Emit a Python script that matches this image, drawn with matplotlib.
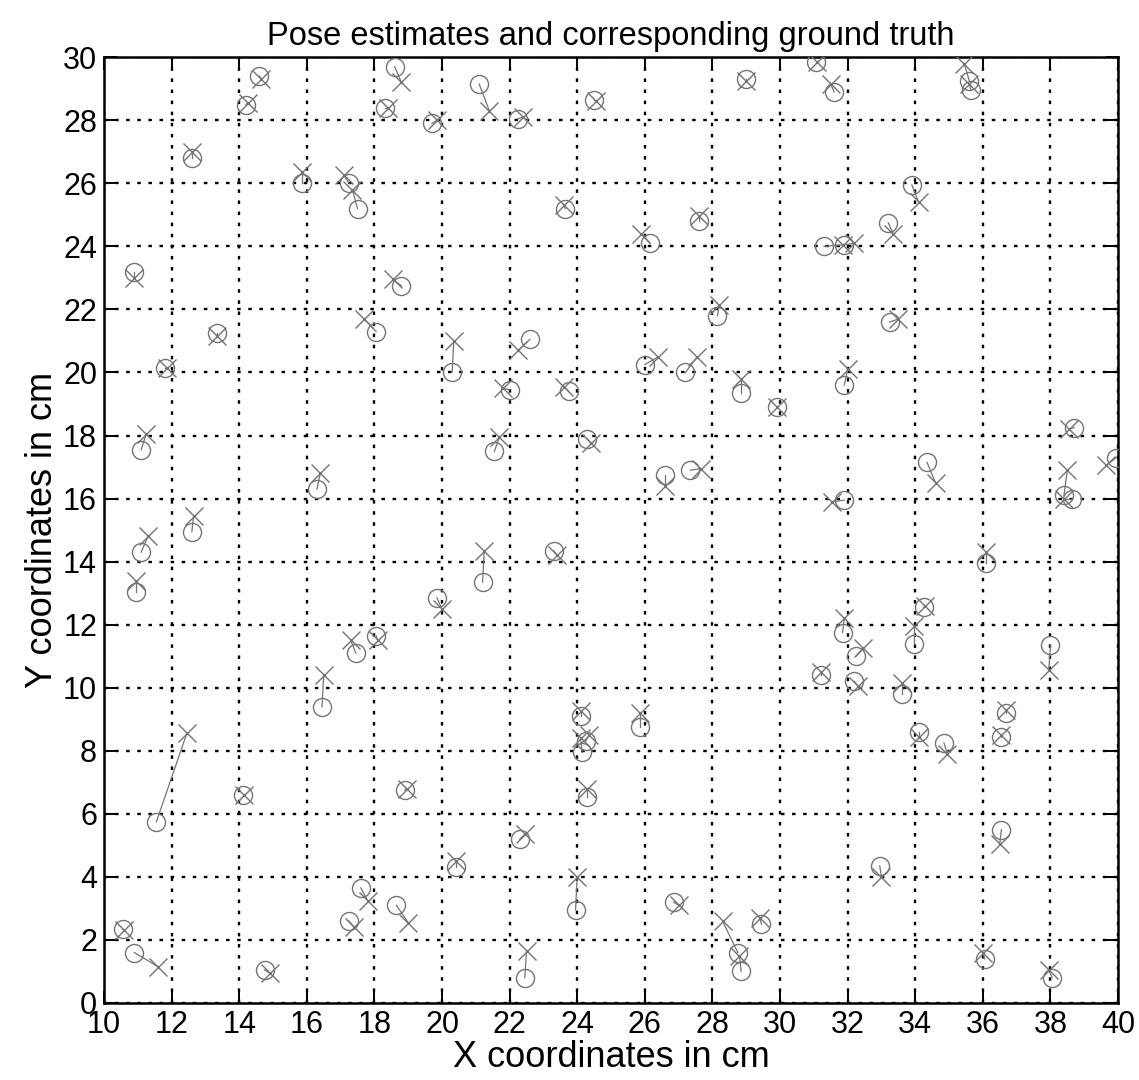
import matplotlib
matplotlib.use("Agg")
import matplotlib.pyplot as plt

plt.rcParams['font.family'] = ['Liberation Sans', 'DejaVu Sans']

est_x = [14.6, 14.2, 12.6, 15.85, 17.25, 17.5, 18.6, 18.3, 19.7, 21.1,
         22.25, 24.5, 29.0, 31.05, 31.6, 35.6, 35.65, 10.9, 18.8, 23.65,
         26.15, 27.6, 33.9, 33.2, 31.3, 31.9, 13.35, 11.8, 11.1, 16.3,
         18.05, 20.3, 22.6, 22.0, 23.75, 26.0, 27.2, 28.85, 29.9, 21.55,
         24.3, 26.6, 27.35, 28.15, 33.25, 31.9, 38.7, 39.95, 34.35, 38.4,
         38.65, 31.9, 11.1, 12.6, 10.95, 16.45, 17.45, 18.05, 19.85, 21.2,
         23.3, 24.1, 24.15, 24.25, 25.85, 36.1, 34.25, 31.85, 33.95, 32.25,
         31.2, 32.2, 33.6, 38.0, 36.7, 36.55, 34.1, 34.85, 11.55, 14.1,
         18.9, 10.55, 10.9, 14.75, 17.6, 17.25, 18.65, 24.3, 22.3, 20.4,
         23.95, 26.85, 22.45, 28.75, 28.85, 29.45, 32.95, 36.55, 36.05, 38.05]
est_y = [29.4, 28.5, 26.8, 26.0, 26.0, 25.2, 29.7, 28.4, 27.9, 29.15,
         28.05, 28.65, 29.3, 29.85, 28.9, 29.25, 28.95, 23.2, 22.75, 25.2,
         24.1, 24.8, 25.95, 24.75, 24.0, 24.05, 21.25, 20.15, 17.55, 16.3,
         21.3, 20.0, 21.05, 19.45, 19.4, 20.25, 20.0, 19.35, 18.9, 17.5,
         17.9, 16.75, 16.9, 21.8, 21.6, 19.6, 18.25, 17.3, 17.15, 16.1,
         16.0, 15.95, 14.3, 14.95, 13.05, 9.4, 11.1, 11.65, 12.85, 13.35,
         14.35, 9.1, 7.95, 8.3, 8.75, 13.95, 12.55, 11.75, 11.4, 11.0,
         10.4, 10.2, 9.8, 11.35, 9.2, 8.45, 8.6, 8.25, 5.75, 6.6,
         6.75, 2.35, 1.6, 1.05, 3.65, 2.6, 3.1, 6.55, 5.2, 4.3,
         2.95, 3.2, 0.8, 1.6, 1.0, 2.5, 4.35, 5.5, 1.4, 0.8]
true_x = [14.65, 14.25, 12.6, 15.85, 17.1, 17.35, 18.8, 18.4, 19.85, 21.4,
          22.4, 24.55, 29.0, 31.1, 31.5, 35.45, 35.6, 10.9, 18.55, 23.6,
          25.9, 27.6, 34.1, 33.35, 31.85, 32.2, 13.35, 11.85, 11.25, 16.4,
          17.7, 20.35, 22.25, 21.8, 23.6, 26.4, 27.55, 28.85, 29.9, 21.7,
          24.4, 26.6, 27.65, 28.2, 33.5, 32.0, 38.55, 39.65, 34.6, 38.5,
          38.4, 31.55, 11.3, 12.65, 10.95, 16.5, 17.3, 18.1, 20.0, 21.25,
          23.4, 24.1, 24.1, 24.35, 25.85, 36.1, 34.3, 31.9, 33.95, 32.45,
          31.2, 32.3, 33.6, 37.95, 36.7, 36.55, 34.1, 34.95, 12.45, 14.15,
          18.95, 10.6, 11.6, 14.9, 17.8, 17.4, 19.0, 24.3, 22.45, 20.4,
          24.0, 27.0, 22.5, 28.3, 28.8, 29.4, 33.0, 36.5, 36.0, 37.95]
true_y = [29.3, 28.55, 27.0, 26.35, 26.25, 25.8, 29.2, 28.4, 28.0, 28.3,
          28.1, 28.6, 29.25, 29.85, 29.15, 29.8, 29.15, 23.0, 22.95, 25.3,
          24.4, 24.95, 25.4, 24.4, 24.05, 24.1, 21.15, 20.15, 18.05, 16.8,
          21.7, 21.0, 20.7, 19.5, 19.55, 20.5, 20.5, 19.8, 18.9, 17.95,
          17.75, 16.4, 16.95, 22.15, 21.7, 20.1, 18.2, 17.05, 16.5, 16.9,
          16.0, 15.9, 14.8, 15.45, 13.4, 10.4, 11.5, 11.5, 12.5, 14.35,
          14.2, 9.25, 8.4, 8.5, 9.2, 14.3, 12.6, 12.2, 11.95, 11.25,
          10.5, 10.05, 10.15, 10.55, 9.3, 8.5, 8.45, 7.9, 8.55, 6.6,
          6.8, 2.3, 1.15, 0.95, 3.25, 2.4, 2.55, 6.8, 5.35, 4.5,
          4.0, 3.1, 1.65, 2.6, 1.5, 2.7, 4.0, 5.05, 1.6, 1.05]

x_ticks = list(range(10, 41, 2))
y_ticks = list(range(0, 31, 2))

gray = '#747474'

fig = plt.figure(figsize=(11.39, 10.80), dpi=100)
ax = fig.add_axes([0.0913, 0.0713, 0.8903, 0.8757])

for ex, ey, tx, ty in zip(est_x, est_y, true_x, true_y):
    ax.plot([ex, tx], [ey, ty], color=gray, lw=0.9, zorder=3)
ax.plot(est_x, est_y, 'o', mfc='none', mec=gray, ms=13, mew=1.0, zorder=4)
ax.plot(true_x, true_y, 'x', color=gray, ms=13.5, mew=1.0, zorder=4)

ax.set_xlim(10, 40)
ax.set_ylim(0, 30)
ax.set_xticks(x_ticks)
ax.set_yticks(y_ticks)
ax.grid(True, color='black', linestyle=(0, (1.5, 3.2)), linewidth=1.7)
ax.set_axisbelow(True)
ax.tick_params(direction='in', length=9, width=1.4, top=True, right=True,
               labelsize=22, pad=5)
for s in ax.spines.values():
    s.set_linewidth(1.8)

ax.set_title('Pose estimates and corresponding ground truth', fontsize=23.5, pad=9)
ax.set_xlabel('X coordinates in cm', fontsize=26, labelpad=0)
ax.set_ylabel('Y coordinates in cm', fontsize=26, labelpad=2)

fig.savefig('out.png', dpi=100)
